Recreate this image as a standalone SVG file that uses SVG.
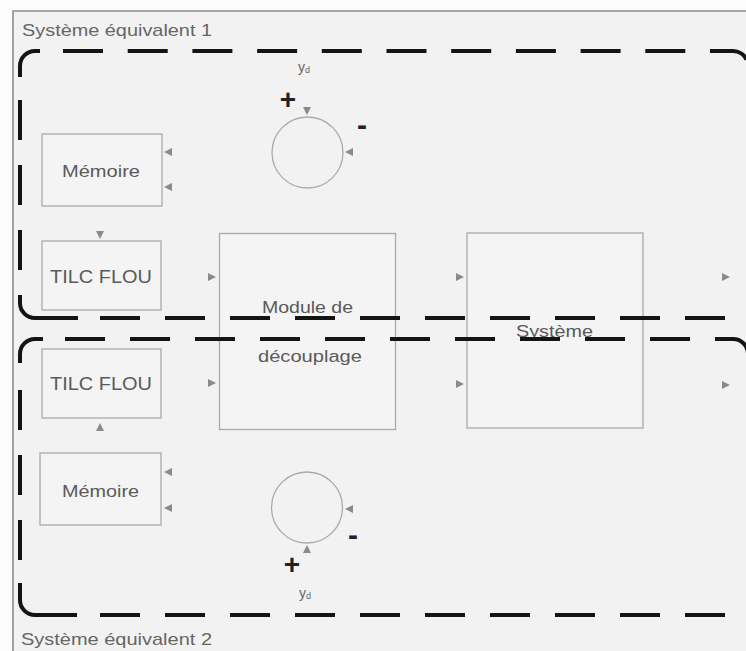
<svg xmlns="http://www.w3.org/2000/svg" width="746" height="651" viewBox="0 0 746 651">
<style>
.lbl{font-family:"Liberation Sans",Arial,sans-serif;fill:#5a5a5a;}
.ttl{font-family:"Liberation Sans",Arial,sans-serif;fill:#666;}
.blk{fill:#f4f4f4;stroke:#aaa;stroke-width:1.3;}
.dash{fill:none;stroke:#141414;stroke-width:4;}
.port{fill:#8a8a8a;}
.sign{font-family:"Liberation Sans",Arial,sans-serif;font-weight:bold;fill:#222;text-anchor:middle;}
</style>
<rect x="0" y="0" width="746" height="651" fill="#fcfcfc"/>
<rect x="13" y="11" width="740" height="650" fill="#f2f2f2"/>
<path d="M13,651 V11 H746" fill="none" stroke="#8c8c8c" stroke-width="1.6"/>

<g id="memoire-1">
 <rect class="blk" x="42" y="134" width="120" height="72"/>
 <text class="lbl" x="62" y="177" font-size="17" textLength="78" lengthAdjust="spacingAndGlyphs">Mémoire</text>
</g>
<g id="tilc-flou-1">
 <rect class="blk" x="42" y="241" width="119" height="69"/>
 <text class="lbl" x="50" y="283" font-size="18" textLength="102" lengthAdjust="spacingAndGlyphs">TILC FLOU</text>
</g>
<g id="sum-1">
 <circle cx="307.5" cy="152.5" r="35.5" fill="none" stroke="#aaa" stroke-width="1.3"/>
 <text class="ttl" x="298" y="72" font-size="14">y<tspan font-size="9" dy="1">d</tspan></text>
 <text class="sign" x="288" y="109" font-size="28">+</text>
 <text class="sign" x="362" y="135" font-size="30">-</text>
</g>

<g id="module-decouplage">
 <rect class="blk" x="219.5" y="233.5" width="176" height="196"/>
 <text class="lbl" x="262" y="313" font-size="17" textLength="91" lengthAdjust="spacingAndGlyphs">Module de</text>
 <text class="lbl" x="258" y="362" font-size="17" textLength="104" lengthAdjust="spacingAndGlyphs">découplage</text>
</g>

<g id="systeme">
 <rect class="blk" x="467" y="233" width="176" height="195"/>
 <text class="lbl" x="516" y="337" font-size="17" textLength="77" lengthAdjust="spacingAndGlyphs">Système</text>
</g>

<g id="tilc-flou-2">
 <rect class="blk" x="42" y="349" width="119" height="69"/>
 <text class="lbl" x="50" y="390" font-size="18" textLength="102" lengthAdjust="spacingAndGlyphs">TILC FLOU</text>
</g>
<g id="memoire-2">
 <rect class="blk" x="40" y="453" width="121" height="72"/>
 <text class="lbl" x="62" y="497" font-size="17" textLength="77" lengthAdjust="spacingAndGlyphs">Mémoire</text>
</g>
<g id="sum-2">
 <circle cx="307" cy="507.5" r="35.5" fill="none" stroke="#aaa" stroke-width="1.3"/>
 <text class="sign" x="292" y="574" font-size="28">+</text>
 <text class="sign" x="353" y="545" font-size="30">-</text>
 <text class="ttl" x="299" y="598" font-size="14">y<tspan font-size="9" dy="1">d</tspan></text>
</g>

<g id="connectors">
 <path class="port" d="M164,152 L172,148 L172,156 Z"/>
 <path class="port" d="M164,187 L172,183 L172,191 Z"/>
 <path class="port" d="M303,107 L311,107 L307,115 Z"/>
 <path class="port" d="M345,152 L353,148 L353,156 Z"/>
 <path class="port" d="M96,231 L104,231 L100,239 Z"/>
 <path class="port" d="M216,277 L208,273 L208,281 Z"/>
 <path class="port" d="M216,383 L208,379 L208,387 Z"/>
 <path class="port" d="M100,423 L104,431 L96,431 Z"/>
 <path class="port" d="M464,277 L456,273 L456,281 Z"/>
 <path class="port" d="M464,384 L456,380 L456,388 Z"/>
 <path class="port" d="M730,277 L722,273 L722,281 Z"/>
 <path class="port" d="M730,385 L722,381 L722,389 Z"/>
 <path class="port" d="M164,472 L172,468 L172,476 Z"/>
 <path class="port" d="M164,508 L172,504 L172,512 Z"/>
 <path class="port" d="M345,509 L353,505 L353,513 Z"/>
 <path class="port" d="M307,545 L311,553 L303,553 Z"/>
</g>

<g id="system-equivalent-1">
 <text class="ttl" x="22" y="36" font-size="17" textLength="190" lengthAdjust="spacingAndGlyphs">Système équivalent 1</text>
 <path class="dash" d="M20,77 V66 A15,15 0 0 1 35,51 H40"/>
 <path class="dash" d="M63,51 H733 A15,15 0 0 1 748,66 V140" stroke-dasharray="40 24.7"/>
 <path class="dash" d="M20,100 V270" stroke-dasharray="40 25"/>
 <path class="dash" d="M20,295 V303 A15,15 0 0 0 35,318 H78"/>
 <path class="dash" d="M100,318 H735 A15,15 0 0 0 750,303 V250" stroke-dasharray="40 25"/>
</g>

<g id="system-equivalent-2">
 <text class="ttl" x="21" y="645" font-size="17" textLength="191" lengthAdjust="spacingAndGlyphs">Système équivalent 2</text>
 <path class="dash" d="M20,363 V354 A15,15 0 0 1 35,339 H43"/>
 <path class="dash" d="M65,339 H733 A15,15 0 0 1 748,354 V420" stroke-dasharray="40 25"/>
 <path class="dash" d="M20,390 V560" stroke-dasharray="40 25"/>
 <path class="dash" d="M20,583 V600 A15,15 0 0 0 35,615 H77"/>
 <path class="dash" d="M100,615 H735 A15,15 0 0 0 750,600 V560" stroke-dasharray="40 25"/>
</g>
</svg>
